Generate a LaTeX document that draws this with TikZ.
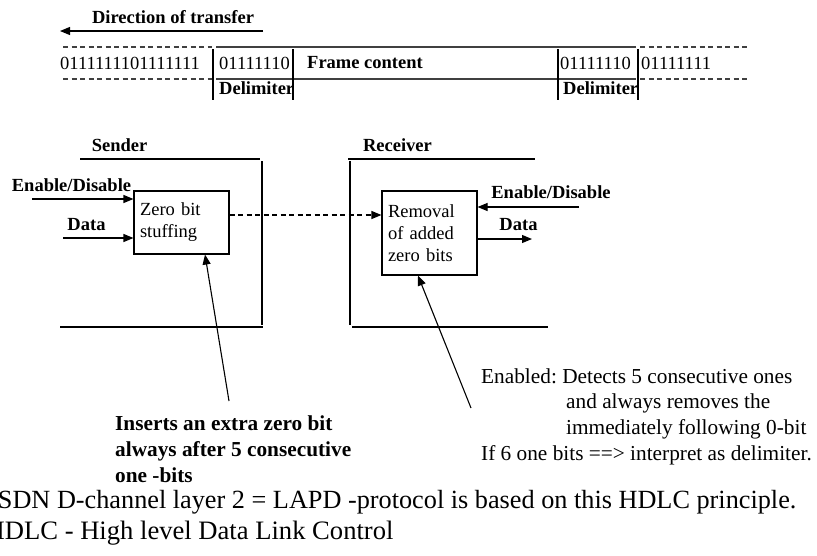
\documentclass[tikz,border=0pt]{standalone}
\usepackage{fontspec}
\setmainfont{Liberation Serif}
\usetikzlibrary{arrows.meta}
\frenchspacing

\begin{document}
\begin{tikzpicture}[x=1pt,y=-1pt,
        txt/.style={inner sep=0pt,font=\fontsize{18.5}{22}\selectfont},
        btxt/.style={inner sep=0pt,font=\fontsize{18.5}{22}\selectfont\bfseries},
        arr/.style={line width=1.1pt,-{Triangle[length=10pt,width=8pt]}},
        wall/.style={line width=1.1pt},
        seqline/.style={line width=1.4pt,black!75},
        seqdash/.style={seqline,dash pattern=on 5pt off 3.5pt},
        block/.style={draw,line width=1.1pt,txt,align=left,text width=83pt,inner xsep=6pt,inner ysep=0pt}]
        \useasboundingbox (0,0) rectangle (817,555);

        % Direction of transfer
        \node[btxt] (dir) at (173,17) {Direction of transfer};
        \coordinate (dirR) at (263,31);
        \coordinate (dirL) at (60,31);
        \draw[arr] (dirR) -- (dirL);

        % Bit sequence
        \draw[seqdash] (63,47) -- (212,47);
        \draw[seqdash] (63,79) -- (212,79);
        \draw[seqline] (216,47) -- (636,47);
        \draw[seqline] (216,79) -- (636,79);
        \draw[seqdash] (640,47) -- (748,47);
        \draw[seqdash] (640,79) -- (748,79);
        \foreach \x in {213,293,558,638}
            \draw[wall] (\x,49) -- (\x,100);

        \node[txt,anchor=west] (pre) at (60,63) {0111111101111111};
        \node[txt,anchor=west] (flagA) at (219,63) {01111110};
        \node[btxt,anchor=west] (cont) at (307,63) {Frame content};
        \node[txt,anchor=west] (flagB) at (560,63) {01111110};
        \node[txt,anchor=west] (post) at (641,63) {01111111};
        \node[btxt,anchor=west] (delA) at (219,88) {Delimiter};
        \node[btxt,anchor=west] (delB) at (563,88) {Delimiter};

        % Sender side
        \node[btxt] (snd) at (119.5,145) {Sender};
        \draw[wall] (80,159) -- (260,159);
        \draw[wall] (262,161) -- (262,325);
        \draw[wall] (60,327) -- (263,327);
        \node[block,minimum height=63pt] (stuff) at (181.5,222.5) {Zero bit\\stuffing};

        \node[btxt] (enA) at (71.5,185) {Enable/Disable};
        \node[btxt] (dataA) at (86.5,225) {Data};
        \coordinate (enAS) at (32,199);
        \coordinate (dataAS) at (63,238);
        \draw[arr] (enAS) -- (enAS -| stuff.west);
        \draw[arr] (dataAS) -- (dataAS -| stuff.west);

        % Receiver side
        \node[btxt] (rcv) at (397.5,145) {Receiver};
        \draw[wall] (348,159) -- (535,159);
        \draw[wall] (350,161) -- (350,325);
        \draw[wall] (352,327) -- (548,327);
        \node[block,minimum height=84pt] (rem) at (429.5,233) {Removal\\of added\\zero bits};

        \node[btxt] (enB) at (551,192) {Enable/Disable};
        \node[btxt] (dataB) at (518.5,225) {Data};
        \coordinate (enBS) at (579,207);
        \coordinate (dataBE) at (532,239);
        \draw[arr] (enBS) -- (enBS -| rem.east);
        \draw[arr] (dataBE -| rem.east) -- (dataBE);

        % Transmission link
        \coordinate (link) at (0,215);
        \draw[arr,dash pattern=on 5pt off 3.5pt] (link -| stuff.east) -- (link -| rem.west);

        % Comment arrows
        \node[btxt,align=left,anchor=west,font=\fontsize{21.3}{26}\selectfont\bfseries] (ins) at (115,449)
            {Inserts an extra zero bit\\always after 5 consecutive\\one -bits};
        \node[txt,align=left,anchor=west,font=\fontsize{21.3}{25.7}\selectfont] (det) at (481,416.5)
            {Enabled: Detects 5 consecutive ones\\\hspace*{85pt}and always removes the\\\hspace*{85pt}immediately following 0-bit\\If 6 one bits ==> interpret as delimiter.};
        \coordinate (insP) at (229,401);
        \coordinate (detP) at (471,408);
        \draw[arr] (insP) -- ([xshift=23.5pt]stuff.south);
        \draw[arr] (detP) -- ([xshift=-11.5pt]rem.south);

        % Footnotes
        \node[txt,anchor=west,font=\fontsize{26.25}{31}\selectfont] (isdn) at (-11,502)
            {ISDN D-channel layer 2 = LAPD -protocol is based on this HDLC principle.};
        \node[txt,anchor=west,font=\fontsize{26.6}{31}\selectfont] (hdlc) at (-14.5,533)
            {HDLC - High level Data Link Control};
    \end{tikzpicture}
\end{document}
